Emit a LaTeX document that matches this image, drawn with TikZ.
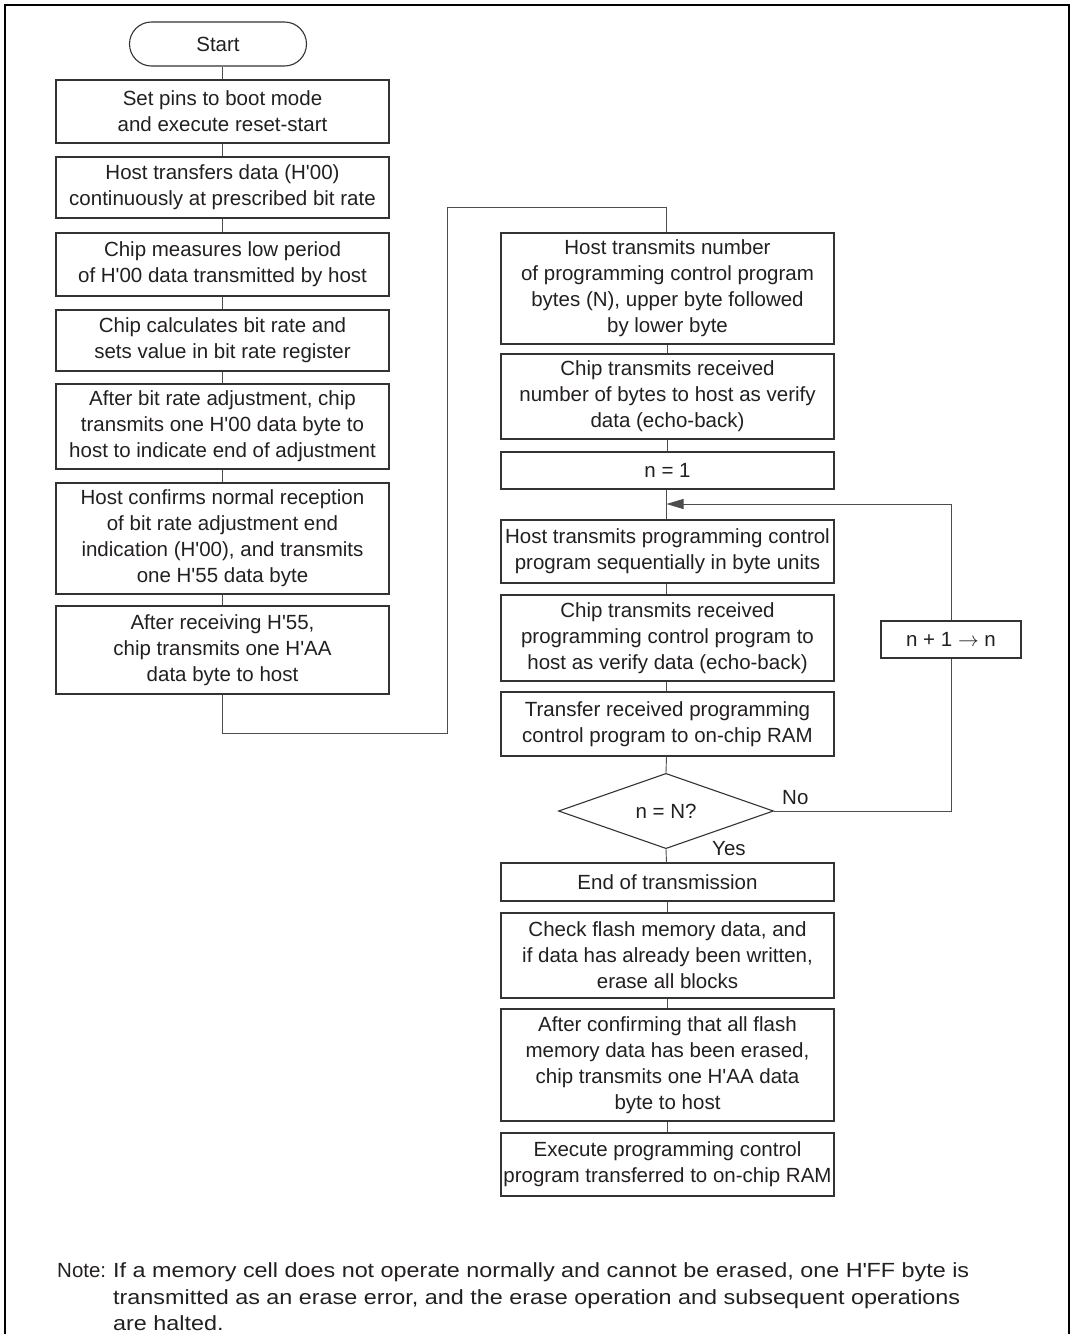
\documentclass[tikz,border=0pt]{standalone}
\usepackage{fontspec}
\setmainfont{Liberation Sans}
\newfontfamily\notefont{Liberation Sans}[FakeStretch=1.14]
\usetikzlibrary{shapes.geometric,arrows.meta}
\definecolor{ink}{HTML}{231F20}
\definecolor{edge}{HTML}{333333}
\definecolor{wire}{HTML}{4D4D4D}
\newcommand{\qs}{\textquotesingle}
\tikzset{
  boxtxt/.style={font=\fontsize{20.5}{26}\selectfont, text=ink},
  notetxt/.style={font=\notefont\fontsize{20.5}{26.5}\selectfont, text=ink, inner sep=0pt},
  stepbox/.style={boxtxt, draw=edge, line width=1.1pt, minimum width=333pt, inner sep=0pt, align=center},
  termbox/.style={boxtxt, draw=edge, line width=1.1pt, minimum width=177pt, minimum height=44pt, rounded corners=22pt, inner sep=0pt},
  decbox/.style={boxtxt, draw=edge, line width=1.1pt, diamond, minimum width=215pt, minimum height=72pt, inner sep=0pt},
  flow/.style={draw=wire, line width=0.9pt},
  lbl/.style={boxtxt, inner sep=0pt},
}
\begin{document}
\begin{tikzpicture}[x=1pt,y=-1pt]
\useasboundingbox (0,0) rectangle (1075,1334);
% frame
\draw[line width=2pt, black] (5,1340) -- (5,5) -- (1069,5) -- (1069,1340);

% left column
\node[termbox] (start) at (218,44) {Start};
\node[stepbox, minimum height=63pt] (b1) at (222.5,111.5) {Set pins to boot mode\\and execute reset-start};
\node[stepbox, minimum height=61pt] (b2) at (222.5,187.5) {Host transfers data (H\qs 00)\\continuously at prescribed bit rate};
\node[stepbox, minimum height=63pt] (b3) at (222.5,264.5) {Chip measures low period\\of H\qs 00 data transmitted by host};
\node[stepbox, minimum height=61pt] (b4) at (222.5,340.5) {Chip calculates bit rate and\\sets value in bit rate register};
\node[stepbox, minimum height=85pt] (b5) at (222.5,426.5) {After bit rate adjustment, chip\\transmits one H\qs 00 data byte to\\host to indicate end of adjustment};
\node[stepbox, minimum height=111pt] (b6) at (222.5,538.5) {Host confirms normal reception\\of bit rate adjustment end\\indication (H\qs 00), and transmits\\one H\qs 55 data byte};
\node[stepbox, minimum height=88pt] (b7) at (222.5,650) {After receiving H\qs 55,\\chip transmits one H\qs AA\\data byte to host};

% right column
\node[stepbox, minimum height=111pt] (r1) at (667.5,288.5) {Host transmits number\\of programming control program\\bytes (N), upper byte followed\\by lower byte};
\node[stepbox, minimum height=85pt] (r2) at (667.5,396.5) {Chip transmits received\\number of bytes to host as verify\\data (echo-back)};
\node[stepbox, minimum height=37pt] (r3) at (667.5,470.5) {n = 1};
\node[stepbox, minimum height=63pt] (r4) at (667.5,551.5) {Host transmits programming control\\program sequentially in byte units};
\node[stepbox, minimum height=86pt] (r5) at (667.5,638) {Chip transmits received\\programming control program to\\host as verify data (echo-back)};
\node[stepbox, minimum height=64pt] (r6) at (667.5,724) {Transfer received programming\\control program to on-chip RAM};
\node[decbox] (dec) at (666,811) {n = N?};
\node[stepbox, minimum height=38pt] (r7) at (667.5,882) {End of transmission};
\node[stepbox, minimum height=85pt] (r8) at (667.5,955.5) {Check flash memory data, and\\if data has already been written,\\erase all blocks};
\node[stepbox, minimum height=112pt] (r9) at (667.5,1065) {After confirming that all flash\\memory data has been erased,\\chip transmits one H\qs AA data\\byte to host};
\node[stepbox, minimum height=63pt] (r10) at (667.5,1164.5) {Execute programming control\\program transferred to on-chip RAM};

\node[stepbox, minimum width=140pt, minimum height=37pt] (inc) at (951,639.5) {n + 1 $\rightarrow$ n};

% connector coordinates
\coordinate (m1) at (222.5,733);
\coordinate (m2) at (447,733);
\coordinate (m3) at (447,207);
\coordinate (m4) at (666.5,207);
\coordinate (merge) at (666.5,504);
\coordinate (lp) at (951,811);

% left column connectors
\draw[flow] (b1.north |- start.south) -- (b1.north);
\draw[flow] (b1) -- (b2);
\draw[flow] (b2) -- (b3);
\draw[flow] (b3) -- (b4);
\draw[flow] (b4) -- (b5);
\draw[flow] (b5) -- (b6);
\draw[flow] (b6) -- (b7);
\draw[flow] (b7.south) -- (m1) -- (m2) -- (m3) -- (m4) -- (m4 |- r1.north);

% right column connectors
\draw[flow] (r1) -- (r2);
\draw[flow] (r2) -- (r3);
\draw[flow] (merge |- r3.south) -- (merge |- r4.north);
\draw[flow] (merge |- r4.south) -- (merge |- r5.north);
\draw[flow] (merge |- r5.south) -- (merge |- r6.north);
\draw[flow] (merge |- r6.south) -- (dec.north);
\draw[flow] (dec.south) -- (merge |- r7.north);
\draw[flow] (r7) -- (r8);
\draw[flow] (r8) -- (r9);
\draw[flow] (r9) -- (r10);

% loop
\draw[flow] (dec.east) -- (lp) -- (inc.south);
\draw[flow, -{Triangle[length=17pt,width=10pt]}] (inc.north) |- (merge);

\node[lbl, anchor=west] (nolbl) at (782,798) {No};
\node[lbl, anchor=west] (yeslbl) at (712,849) {Yes};

% note
\node[lbl, anchor=base west] (notehead) at (57,1277.5) {Note:};
\node[notetxt, anchor=north west, align=left] (notebody) at (113,1262.5) {If a memory cell does not operate normally and cannot be erased, one H\qs FF byte is\\transmitted as an erase error, and the erase operation and subsequent operations\\are halted.};
\end{tikzpicture}
\end{document}
